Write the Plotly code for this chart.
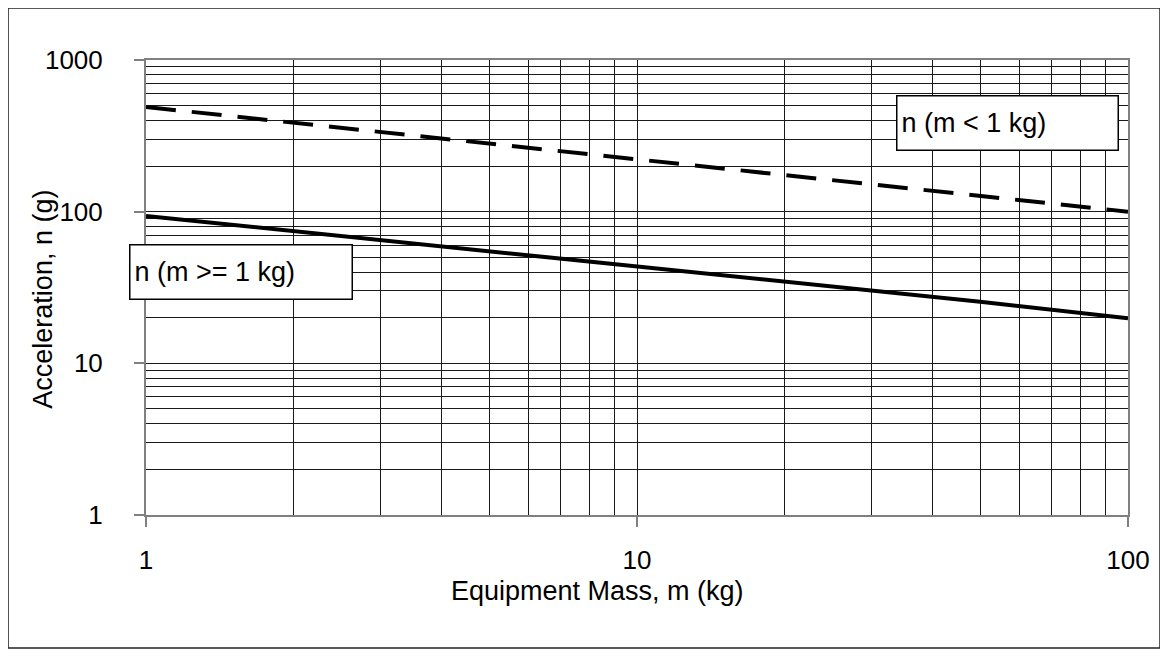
import plotly.graph_objects as go

# Data
mass_kg = [1, 2, 3, 5, 10, 20, 30, 50, 100]
n_small = [490, 386, 335, 280, 220, 173, 150, 126, 100]   # n (m < 1 kg), dashed
n_large = [93.6, 74.3, 65.0, 55.0, 43.5, 34.5, 30.2, 25.5, 19.8]  # n (m >= 1 kg), solid

x_ticks = [1, 10, 100]
x_tick_labels = ["1", "10", "100"]
y_ticks = [1, 10, 100, 1000]
y_tick_labels = ["1", "10", "100", "1000"]

FONT = "Liberation Sans, Arial, sans-serif"

fig = go.Figure()
fig.add_trace(go.Scatter(
    x=mass_kg, y=n_small, mode="lines", name="n (m < 1 kg)",
    line=dict(color="black", width=4, dash="30px,16px"), showlegend=False))
fig.add_trace(go.Scatter(
    x=mass_kg, y=n_large, mode="lines", name="n (m >= 1 kg)",
    line=dict(color="black", width=4), showlegend=False))

axis_common = dict(
    type="log",
    showgrid=True, gridcolor="#1a1a1a", gridwidth=1,
    showline=True, linecolor="#808080", linewidth=2, mirror=True,
    ticks="outside", ticklen=10, tickcolor="#808080", tickwidth=1.5,
    tickfont=dict(family=FONT, size=26, color="black"),
    minor=dict(dtick="D1", showgrid=True, gridcolor="#1a1a1a", gridwidth=1, ticks=""),
    zeroline=False,
)

fig.update_xaxes(range=[0, 2], tickvals=x_ticks, ticktext=x_tick_labels,
                 ticklabelstandoff=11, **axis_common)
fig.update_yaxes(range=[0, 3], tickvals=y_ticks, ticktext=y_tick_labels,
                 ticklabelstandoff=26, **axis_common)

fig.update_layout(
    width=1168, height=657,
    margin=dict(l=138, r=48, t=52, b=150),
    paper_bgcolor="white", plot_bgcolor="white",
    font=dict(family=FONT, color="black"),
    shapes=[dict(type="rect", xref="paper", yref="paper",
                 x0=-0.1405, x1=1.0326, y0=-0.2923, y1=1.1143,
                 line=dict(color="#222222", width=1.5), layer="below")],
    annotations=[
        dict(text="Equipment Mass, m (kg)", xref="paper", yref="paper",
             x=0.4593, y=-0.168, showarrow=False,
             font=dict(family=FONT, size=27, color="black"),
             xanchor="center", yanchor="middle"),
        dict(text="Acceleration, n (g)", xref="paper", yref="paper",
             x=-0.1049, y=0.4754, showarrow=False, textangle=-90,
             font=dict(family=FONT, size=27, color="black"),
             xanchor="center", yanchor="middle"),
        dict(text="n (m >= 1 kg)", xref="paper", yref="paper",
             x=0.0972, y=0.535, showarrow=False,
             font=dict(family=FONT, size=27, color="black"),
             align="left", width=213, height=45, borderpad=4,
             bordercolor="black", borderwidth=1.5, bgcolor="white",
             xanchor="center", yanchor="middle"),
        dict(text="n (m < 1 kg)", xref="paper", yref="paper",
             x=0.8768, y=0.8626, showarrow=False,
             font=dict(family=FONT, size=27, color="black"),
             align="left", width=212, height=45, borderpad=4,
             bordercolor="black", borderwidth=1.5, bgcolor="white",
             xanchor="center", yanchor="middle"),
    ],
)

fig.write_html("out.html")
